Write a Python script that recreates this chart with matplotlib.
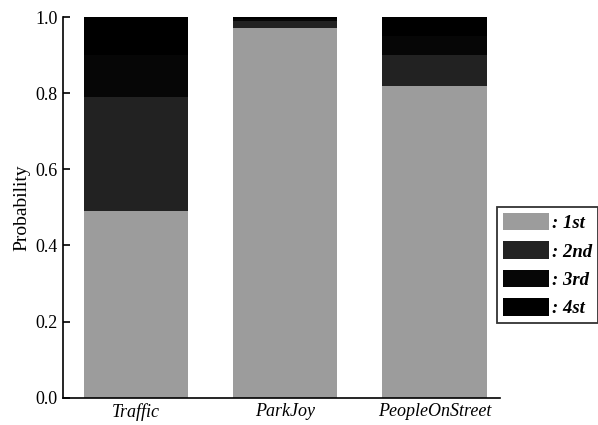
import numpy as np
import matplotlib.pyplot as plt
from matplotlib.patches import Patch

plt.rcParams["font.family"] = ["Liberation Serif", "DejaVu Serif"]

sequences = ["Traffic", "ParkJoy", "PeopleOnStreet"]
ranks = ["1st", "2nd", "3rd", "4st"]
prob_1st = [0.49, 0.97, 0.82]
prob_2nd = [0.30, 0.02, 0.08]
prob_3rd = [0.11, 0.006, 0.05]
prob_4th = [0.10, 0.004, 0.05]

colors = ["#9c9c9c", "#222222", "#060606", "#000000"]

fig = plt.figure(figsize=(5.98, 4.25), dpi=100)
ax = fig.add_axes([0.105, 0.064, 0.731, 0.896])

x = np.arange(len(sequences))
bottom = np.zeros(len(sequences))
for vals, c in zip([prob_1st, prob_2nd, prob_3rd, prob_4th], colors):
    ax.bar(x, vals, width=0.7, bottom=bottom, color=c, edgecolor="none")
    bottom += np.array(vals)

ax.set_xlim(-0.49, 2.44)
ax.set_ylim(0, 1.0)
ax.set_yticks(np.arange(0, 1.01, 0.2))
ax.set_yticklabels([f"{v:.1f}" for v in np.arange(0, 1.01, 0.2)], fontsize=13)
ax.set_xticks(x)
ax.set_xticklabels(sequences, fontsize=13, style="italic")
ax.tick_params(axis="y", direction="in", length=5, width=1.2)
ax.tick_params(axis="x", length=0, pad=4)
ax.set_ylabel("Probability", fontsize=14)

for side in ["top", "right"]:
    ax.spines[side].set_visible(False)
for side in ["left", "bottom"]:
    ax.spines[side].set_linewidth(1.2)

handles = [Patch(facecolor=c, edgecolor="none") for c in colors]
leg = fig.legend(handles, [": " + r for r in ranks],
                 loc="center left", bbox_to_anchor=(0.831, 0.376),
                 borderaxespad=0, handlelength=2.5, handleheight=1.05,
                 handletextpad=0.15, labelspacing=0.5, borderpad=0.3,
                 fancybox=False,
                 prop={"style": "italic", "weight": "bold", "size": 13.5})
leg.get_frame().set_edgecolor("black")
leg.get_frame().set_linewidth(1.3)

fig.savefig("out.png", dpi=100)
